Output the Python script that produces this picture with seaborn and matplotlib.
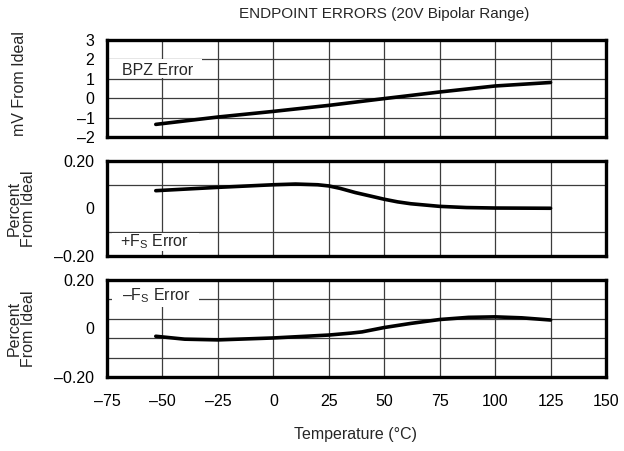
import matplotlib
matplotlib.use("Agg")
import matplotlib.pyplot as plt
import seaborn as sns
import pandas as pd
from matplotlib.ticker import FixedLocator
from matplotlib.patches import Rectangle

# ---- data ----
x_ticks = [-75, -50, -25, 0, 25, 50, 75, 100, 125, 150]
x_tick_labels = ["\u201375", "\u201350", "\u201325", "0", "25", "50", "75", "100", "125", "150"]

temp_bpz = [-53, -25, 0, 25, 50, 75, 100, 125]
bpz_mv = [-1.35, -0.97, -0.68, -0.37, -0.02, 0.32, 0.63, 0.81]

temp_pfs = [-53, -25, 0, 10, 20, 25, 30, 37, 44, 50, 56, 62, 75, 87, 100, 125]
pfs_pct = [0.075, 0.089, 0.100, 0.103, 0.100, 0.095, 0.085, 0.067, 0.052, 0.039, 0.028, 0.020,
           0.009, 0.004, 0.002, 0.001]

temp_nfs = [-53, -40, -25, 0, 25, 35, 40, 50, 62, 75, 88, 100, 112, 125]
nfs_pct = [-0.032, -0.044, -0.047, -0.039, -0.027, -0.019, -0.014, 0.004, 0.021, 0.037, 0.046,
           0.048, 0.044, 0.035]

top_yticks = [-2, -1, 0, 1, 2, 3]
top_ylabels = ["\u20132", "\u20131", "0", "1", "2", "3"]
pct_yticks = [-0.2, 0, 0.2]
pct_ylabels = ["\u20130.20", "0", "0.20"]
mid_grid = [-0.1, 0.0, 0.1]
bot_grid = [-0.12, -0.04, 0.04, 0.12]

title = "ENDPOINT ERRORS (20V Bipolar Range)"
xlabel = "Temperature (\u00b0C)"
ylabel_top = "mV From Ideal"
ylabel_pct = "Percent\nFrom Ideal"
lab_bpz = "BPZ Error"
lab_pfs = r"+F$_\mathregular{S}$ Error"
lab_nfs = "\u2013F" + r"$_\mathregular{S}$ Error"

# ---- styling ----
sns.set_theme(style="white")
plt.rcParams["font.family"] = ["Liberation Sans", "DejaVu Sans"]
plt.rcParams["mathtext.fontset"] = "custom"
plt.rcParams["mathtext.rm"] = "Liberation Sans"
FS = 11.5
W, H = 624, 451
fig = plt.figure(figsize=(W / 100, H / 100), dpi=100)

def px_axes(top, bottom, left=107, right=606):
    return fig.add_axes([left / W, 1 - bottom / H, (right - left) / W, (bottom - top) / H])

ax1 = px_axes(40, 137)
ax2 = px_axes(161, 256)
ax3 = px_axes(280, 377)

grid_kw = dict(color="#3c3c3c", linewidth=0.9)

def style(ax, show_x):
    ax.set_xlim(-75, 150)
    ax.xaxis.set_major_locator(FixedLocator(x_ticks))
    ax.grid(axis="x", which="major", **grid_kw)
    ax.tick_params(axis="both", which="both", length=0, labelsize=FS, colors="black")
    ax.tick_params(axis="y", pad=9)
    ax.tick_params(axis="x", pad=12)
    if show_x:
        ax.set_xticks(x_ticks)
        ax.set_xticklabels(x_tick_labels)
    else:
        ax.set_xticklabels([])
    for s in ax.spines.values():
        s.set_visible(True)
        s.set_color("black")
        s.set_linewidth(2.4)
        s.set_zorder(5)
    ax.set_xlabel("")
    ax.set_ylabel("")
    ax.set_axisbelow(True)

def white_box(ax, x0, x1, y0, y1):
    ax.add_patch(Rectangle((x0, y0), x1 - x0, y1 - y0, facecolor="white", edgecolor="none",
                           zorder=2.5, clip_on=True))

line_kw = dict(color="black", linewidth=2.6, legend=False, estimator=None, sort=False)

# top
sns.lineplot(data=pd.DataFrame({"T": temp_bpz, "v": bpz_mv}), x="T", y="v", ax=ax1, **line_kw)
style(ax1, False)
ax1.set_ylim(-2, 3)
ax1.set_yticks(top_yticks)
ax1.set_yticklabels(top_ylabels)
ax1.grid(axis="y", which="major", **grid_kw)
white_box(ax1, -75, -32, 1.06, 2.04)
ax1.text(-68.4, 1.43, lab_bpz, fontsize=FS, va="center", ha="left", zorder=3)

# middle
sns.lineplot(data=pd.DataFrame({"T": temp_pfs, "v": pfs_pct}), x="T", y="v", ax=ax2, **line_kw)
style(ax2, False)
ax2.set_ylim(-0.2, 0.2)
ax2.set_yticks(pct_yticks)
ax2.set_yticklabels(pct_ylabels)
ax2.yaxis.set_minor_locator(FixedLocator(mid_grid))
ax2.grid(axis="y", which="minor", **grid_kw)
white_box(ax2, -72.7, -33.5, -0.18, -0.104)
ax2.text(-69, -0.138, lab_pfs, fontsize=FS, va="center", ha="left", zorder=3)

# bottom
sns.lineplot(data=pd.DataFrame({"T": temp_nfs, "v": nfs_pct}), x="T", y="v", ax=ax3, **line_kw)
style(ax3, True)
ax3.set_ylim(-0.2, 0.2)
ax3.set_yticks(pct_yticks)
ax3.set_yticklabels(pct_ylabels)
ax3.yaxis.set_minor_locator(FixedLocator(bot_grid))
ax3.grid(axis="y", which="minor", **grid_kw)
white_box(ax3, -72.7, -33.5, 0.09, 0.2)
ax3.text(-68.4, 0.137, lab_nfs, fontsize=FS, va="center", ha="left", zorder=3)

# labels
fig.text(384 / W, 1 - 14 / H, title, ha="center", va="center", fontsize=FS - 0.5)
fig.text(356 / W, 1 - 434 / H, xlabel, ha="center", va="center", fontsize=FS)
fig.text(20 / W, 1 - 84 / H, ylabel_top, rotation=90, ha="center", va="center", fontsize=FS)
for ax_top, ax_bot in [(161, 256), (280, 377)]:
    fig.text(21 / W, 1 - (ax_top + ax_bot) / 2 / H, ylabel_pct, rotation=90, ha="center",
             va="center", fontsize=FS, linespacing=0.95, multialignment="center")

fig.savefig("out.png", dpi=100)
